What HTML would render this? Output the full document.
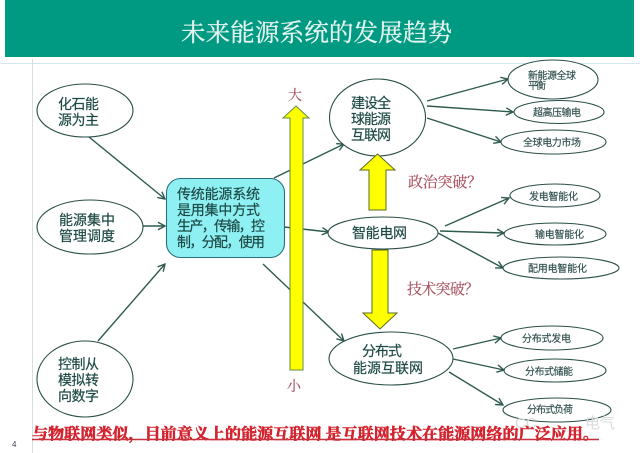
<!DOCTYPE html>
<html lang="zh">
<head>
<meta charset="utf-8">
<title>未来能源系统的发展趋势</title>
<style>
html,body{margin:0;padding:0;background:#fff}
svg{display:block;width:640px;height:453px}
text{font-family:"Liberation Sans","Noto Sans CJK SC",sans-serif;fill:#1f4a45}
.s{font-size:10px;fill:#2f4f4d;stroke:#2f4f4d;stroke-width:.15}
.m{font-size:14px;stroke:#1f4a45;stroke-width:.2}
.r{font-family:"Liberation Serif","Noto Serif CJK SC",serif;font-size:15px;fill:#a8505e;stroke:#a8505e;stroke-width:.15}
ellipse{fill:#fff;stroke:#2b4f49;stroke-width:1.1}
.c line{stroke:#2f5a50;stroke-width:1.4;marker-end:url(#a)}
</style>
</head>
<body>
<svg xmlns="http://www.w3.org/2000/svg" width="640" height="453" viewBox="0 0 640 453">
<defs>
<marker id="a" markerUnits="userSpaceOnUse" markerWidth="9" markerHeight="9" refX="8" refY="4.5" orient="auto">
<path d="M1 .8L8 4.5L1 8.2" fill="none" stroke="#2f5a50" stroke-width="1.4"/>
</marker>
<filter id="b" x="0" y="0" width="100%" height="100%"><feGaussianBlur stdDeviation="0.35"/></filter>
</defs>
<rect width="640" height="453" fill="#fff"/>
<g filter="url(#b)">
<rect x="5" y="0" width="629" height="57" fill="#009a82"/>
<line x1="0" y1="63.5" x2="640" y2="63.5" stroke="#d5e6ee"/>
<line x1="32.5" y1="59" x2="32.5" y2="453" stroke="#d5dde0"/>
<text x="181" y="41" font-size="24.5" textLength="271" style="fill:#e6f4f0;font-family:'Liberation Serif','Noto Serif CJK SC',serif;stroke:#e6f4f0;stroke-width:.3">未来能源系统的发展趋势</text>

<g class="c">
<line x1="89" y1="137" x2="165" y2="199"/>
<line x1="143" y1="226" x2="165" y2="226"/>
<line x1="98" y1="341" x2="165" y2="264"/>
<line x1="274" y1="178" x2="344" y2="144"/>
<line x1="284" y1="227" x2="329" y2="232"/>
<line x1="263" y1="264" x2="344" y2="341"/>
<line x1="427" y1="101" x2="508" y2="79"/>
<line x1="427" y1="106" x2="513" y2="112"/>
<line x1="427" y1="118" x2="501" y2="142"/>
<line x1="445" y1="226" x2="509" y2="198"/>
<line x1="440" y1="231" x2="504" y2="233"/>
<line x1="438" y1="233" x2="503" y2="268"/>
<line x1="453" y1="349" x2="501" y2="338"/>
<line x1="453" y1="359" x2="504" y2="370"/>
<line x1="449" y1="372" x2="503" y2="405"/>
</g>

<ellipse cx="85" cy="110.5" rx="48" ry="26.5"/>
<ellipse cx="90" cy="227" rx="53" ry="27"/>
<ellipse cx="85" cy="379" rx="48" ry="38"/>
<ellipse cx="377.5" cy="117.5" rx="48" ry="38.5"/>
<ellipse cx="383" cy="233" rx="55" ry="16"/>
<ellipse cx="391" cy="358.5" rx="62" ry="26.5"/>
<ellipse cx="553" cy="79.5" rx="45" ry="19.5"/>
<ellipse cx="559" cy="112" rx="45" ry="11.5"/>
<ellipse cx="553.5" cy="142" rx="52.5" ry="12"/>
<ellipse cx="555" cy="195.5" rx="45" ry="11.5"/>
<ellipse cx="555" cy="234" rx="51" ry="11"/>
<ellipse cx="561" cy="268" rx="58" ry="11"/>
<ellipse cx="552" cy="338" rx="51" ry="12"/>
<ellipse cx="555" cy="370.5" rx="51" ry="11.5"/>
<ellipse cx="557" cy="410" rx="54" ry="12"/>

<rect x="166.5" y="178.5" width="118" height="79" rx="14" fill="#8ff0f4" stroke="#2b6f78" stroke-width="1.1"/>

<path d="M296 106L309 118H303V370H290V118H283Z" fill="#ffff00" stroke="#5f8f3f" stroke-width="1"/>
<path d="M377.5 154L395 170H386V210H369V170H360Z" fill="#ffff00" stroke="#5a6a20" stroke-width="1"/>
<path d="M372 250H388V313H397L380 329L363 313H372Z" fill="#ffff00" stroke="#5a6a20" stroke-width="1"/>

<text class="r" x="288" y="100" style="font-size:14px">大</text>
<text class="r" x="287" y="391" style="font-size:14px">小</text>

<text class="m" x="58" y="109" textLength="41">化石能</text>
<text class="m" x="58" y="125" textLength="41">源为主</text>
<text class="m" x="59" y="225" textLength="56">能源集中</text>
<text class="m" x="59" y="241" textLength="56">管理调度</text>
<text class="m" x="58" y="369" textLength="41">控制从</text>
<text class="m" x="58" y="385" textLength="41">模拟转</text>
<text class="m" x="58" y="401" textLength="41">向数字</text>

<text class="m" x="177" y="199" textLength="83">传统能源系统</text>
<text class="m" x="177" y="215" textLength="83">是用集中方式</text>
<text class="m" x="177" y="231" textLength="88">生产，传输，控</text>
<text class="m" x="177" y="247" textLength="88">制，分配，使用</text>

<text class="m" x="351" y="108" textLength="40">建设全</text>
<text class="m" x="351" y="124" textLength="40">球能源</text>
<text class="m" x="351" y="140" textLength="40">互联网</text>
<text class="m" x="352" y="238" textLength="55">智能电网</text>
<text class="m" x="362" y="356" textLength="40">分布式</text>
<text class="m" x="353" y="373" textLength="70">能源互联网</text>

<text class="r" x="408" y="187" textLength="74">政治突破？</text>
<text class="r" x="407" y="294" textLength="72">技术突破？</text>

<text class="s" x="528" y="79" textLength="48">新能源全球</text>
<text class="s" x="528" y="89" textLength="18">平衡</text>
<text class="s" x="533" y="116" textLength="48">超高压输电</text>
<text class="s" x="523" y="146" textLength="58">全球电力市场</text>
<text class="s" x="529" y="200" textLength="49">发电智能化</text>
<text class="s" x="535" y="238" textLength="49">输电智能化</text>
<text class="s" x="528" y="272" textLength="59">配用电智能化</text>
<text class="s" x="522" y="342" textLength="49">分布式发电</text>
<text class="s" x="525" y="375" textLength="48">分布式储能</text>
<text class="s" x="527" y="413" textLength="46">分布式负荷</text>

<text x="515" y="428" font-size="15" style="fill:#d8dcdc">CC</text>
<text x="585" y="428" font-size="15" style="fill:#d8dcdc">电气</text>

<text x="32" y="439" font-size="15.5" font-weight="700" textLength="567" lengthAdjust="spacingAndGlyphs" style="font-family:'Liberation Serif','Noto Serif CJK SC',serif;fill:#d4212d;stroke:#d4212d;stroke-width:.5">与物联网类似，目前意义上的能源互联网 是互联网技术在能源网络的广泛应用。</text>
<line x1="32" y1="439.5" x2="599" y2="439.5" stroke="#c8303c" stroke-width="1.4"/>

<text x="12" y="447" font-size="8" style="fill:#445">4</text>
</g>
</svg>
</body>
</html>
